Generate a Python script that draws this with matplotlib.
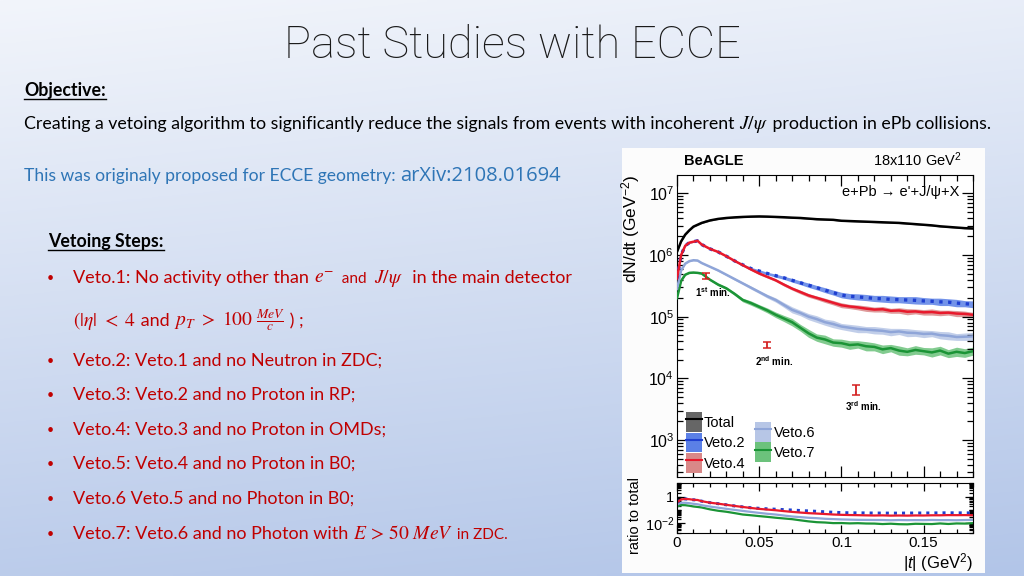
import numpy as np
import matplotlib
matplotlib.use("Agg")
import matplotlib.pyplot as plt
from matplotlib.patches import Rectangle, Patch
from matplotlib.lines import Line2D
from matplotlib.ticker import MultipleLocator, LogLocator, NullFormatter, FixedLocator, FixedFormatter

# ---------------- data ----------------
t_vals = [0.0, 0.0025, 0.005, 0.0075, 0.01, 0.0125, 0.015, 0.02, 0.025, 0.03,
          0.035, 0.04, 0.045, 0.05, 0.055, 0.06, 0.065, 0.07, 0.075, 0.08,
          0.085, 0.09, 0.095, 0.1, 0.105, 0.11, 0.115, 0.12, 0.125, 0.13,
          0.135, 0.14, 0.145, 0.15, 0.155, 0.16, 0.165, 0.17, 0.175, 0.18]

# log10(dN/dt)
log_total = [6.05, 6.22, 6.33, 6.40, 6.46, 6.49, 6.52, 6.56, 6.585, 6.60,
             6.61, 6.617, 6.622, 6.625, 6.622, 6.617, 6.612, 6.605, 6.60, 6.59,
             6.58, 6.575, 6.57, 6.555, 6.55, 6.545, 6.54, 6.535, 6.53, 6.525,
             6.52, 6.51, 6.50, 6.49, 6.48, 6.465, 6.455, 6.445, 6.435, 6.43]
log_veto2 = [5.62, 6.00, 6.15, 6.20, 6.215, 6.23, 6.17, 6.10, 6.05, 5.98,
             5.905, 5.84, 5.78, 5.74, 5.70, 5.665, 5.63, 5.59, 5.55, 5.51,
             5.47, 5.43, 5.39, 5.35, 5.33, 5.32, 5.31, 5.295, 5.29, 5.28,
             5.275, 5.27, 5.265, 5.255, 5.25, 5.24, 5.235, 5.22, 5.21, 5.20]
log_veto4 = [5.62, 6.00, 6.15, 6.20, 6.215, 6.23, 6.17, 6.10, 6.05, 5.98,
             5.905, 5.835, 5.765, 5.70, 5.645, 5.59, 5.52, 5.455, 5.40, 5.345,
             5.305, 5.265, 5.225, 5.185, 5.165, 5.15, 5.13, 5.115, 5.12, 5.095,
             5.10, 5.08, 5.085, 5.07, 5.075, 5.06, 5.065, 5.05, 5.045, 5.03]
log_veto6 = [5.45, 5.75, 5.86, 5.90, 5.915, 5.91, 5.87, 5.81, 5.75, 5.68,
             5.61, 5.54, 5.47, 5.40, 5.33, 5.27, 5.19, 5.11, 5.06, 5.00,
             4.96, 4.91, 4.88, 4.84, 4.82, 4.80, 4.79, 4.78, 4.77, 4.75,
             4.76, 4.74, 4.735, 4.72, 4.725, 4.70, 4.69, 4.67, 4.675, 4.68]
log_veto7 = [5.30, 5.58, 5.68, 5.71, 5.715, 5.71, 5.70, 5.60, 5.52, 5.46,
             5.37, 5.27, 5.22, 5.16, 5.10, 5.03, 4.97, 4.91, 4.82, 4.73,
             4.66, 4.63, 4.58, 4.57, 4.54, 4.55, 4.52, 4.51, 4.47, 4.49,
             4.45, 4.43, 4.46, 4.44, 4.42, 4.45, 4.40, 4.43, 4.41, 4.44]

# half-width of shaded uncertainty bands (dex)
band_total = [0.01, 0.01, 0.01, 0.01, 0.01, 0.01, 0.01, 0.01, 0.01, 0.01,
              0.01, 0.01, 0.01, 0.01, 0.01, 0.01, 0.01, 0.01, 0.01, 0.01,
              0.01, 0.01, 0.01, 0.01, 0.01, 0.01, 0.01, 0.01, 0.01, 0.01,
              0.01, 0.01, 0.01, 0.01, 0.01, 0.01, 0.01, 0.01, 0.01, 0.01]
band_veto2 = [0.01, 0.01, 0.01, 0.01, 0.01, 0.01, 0.01, 0.01, 0.01, 0.01,
              0.015, 0.015, 0.02, 0.02, 0.02, 0.025, 0.025, 0.03, 0.03, 0.035,
              0.035, 0.04, 0.04, 0.045, 0.045, 0.05, 0.05, 0.05, 0.055, 0.055,
              0.05, 0.055, 0.06, 0.055, 0.05, 0.06, 0.055, 0.06, 0.05, 0.055]
band_veto4 = [0.01, 0.01, 0.01, 0.01, 0.01, 0.01, 0.01, 0.01, 0.01, 0.01,
              0.01, 0.015, 0.015, 0.02, 0.02, 0.02, 0.025, 0.025, 0.03, 0.03,
              0.03, 0.035, 0.035, 0.04, 0.035, 0.04, 0.045, 0.04, 0.045, 0.04,
              0.045, 0.05, 0.04, 0.045, 0.05, 0.045, 0.04, 0.05, 0.045, 0.04]
band_veto6 = [0.01, 0.01, 0.01, 0.01, 0.01, 0.01, 0.01, 0.01, 0.015, 0.015,
              0.02, 0.02, 0.025, 0.025, 0.03, 0.035, 0.04, 0.05, 0.045, 0.05,
              0.055, 0.05, 0.06, 0.05, 0.055, 0.06, 0.05, 0.06, 0.055, 0.06,
              0.05, 0.065, 0.055, 0.06, 0.05, 0.06, 0.065, 0.055, 0.06, 0.065]
band_veto7 = [0.01, 0.01, 0.01, 0.01, 0.01, 0.01, 0.015, 0.015, 0.02, 0.02,
              0.025, 0.03, 0.035, 0.035, 0.04, 0.045, 0.05, 0.06, 0.055, 0.065,
              0.06, 0.07, 0.06, 0.065, 0.07, 0.06, 0.075, 0.065, 0.07, 0.06,
              0.075, 0.065, 0.07, 0.06, 0.075, 0.07, 0.065, 0.075, 0.07, 0.065]

# markers of diffractive minima
min_t = [0.0175, 0.055, 0.109]
min_val = [4.6e5, 3.5e4, 6.6e3]
min_err = [0.5e5, 0.35e4, 1.3e3]
min_labels = [r"1$^{\mathbf{st}}$ min.", r"2$^{\mathbf{nd}}$ min.", r"3$^{\mathbf{rd}}$ min."]

series_names = ["Total", "Veto.2", "Veto.4", "Veto.6", "Veto.7"]

# ---------------- styles ----------------
plt.rcParams["mathtext.fontset"] = "custom"
plt.rcParams["mathtext.rm"] = "Liberation Sans"
plt.rcParams["mathtext.it"] = "Liberation Sans:italic"
plt.rcParams["mathtext.bf"] = "Liberation Sans:bold"
CH = ["Liberation Sans", "DejaVu Sans"]
BODY = ["Lato", "DejaVu Sans"]
RED = "#c00000"
W, H = 1024, 576

fig = plt.figure(figsize=(10.24, 5.76), dpi=100)


def fx(x):
    return x / W


def fy(y):
    return 1 - y / H


# background gradient
bg = fig.add_axes([0, 0, 1, 1], zorder=-10)
yy, xx = np.mgrid[0:1:200j, 0:1:200j]
v = np.clip(0.85 * yy + 0.15 * xx, 0, 1)[..., None]
top_c = np.array([242, 245, 251]) / 255
bot_c = np.array([178, 197, 232]) / 255
bg.imshow(top_c * (1 - v) + bot_c * v, extent=[0, 1, 0, 1], aspect="auto", origin="upper")
bg.set_xlim(0, 1)
bg.set_ylim(0, 1)
bg.set_axis_off()

# white chart panel
fig.add_artist(Rectangle((fx(622), fy(573)), fx(985) - fx(622), fy(148) - fy(573),
                         transform=fig.transFigure, facecolor="#fcfcfc",
                         edgecolor="none", zorder=-5))

renderer = fig.canvas.get_renderer()


def run_text(x, y, parts):
    for s, kw in parts:
        t = fig.text(fx(x), fy(y), s, va="baseline", ha="left", **kw)
        x += t.get_window_extent(renderer).width
    return x


def underline(x0, x1, y, color="black"):
    fig.add_artist(Line2D([fx(x0), fx(x1)], [fy(y), fy(y)], transform=fig.transFigure,
                          color=color, lw=1.0))


# ---------------- slide text ----------------
fig.text(0.5, fy(46), "Past Studies with ECCE", ha="center", va="center",
         fontsize=32.5, family=["Roboto", "Lato", "DejaVu Sans"], weight="light",
         color="#1a1a1a")

x_end = run_text(24, 96, [("Objective:", dict(family=BODY, weight="bold", fontsize=12.8))])
underline(24, x_end, 99)

run_text(24, 129, [("Creating a vetoing algorithm to significantly reduce the signals from events with incoherent ",
                    dict(family=BODY, fontsize=12.8)),
                   (r"$J/\psi$", dict(fontsize=14, math_fontfamily="stix")),
                   (" production in ePb collisions.", dict(family=BODY, fontsize=12.8))])

BLUE_T = "#2e75b6"
run_text(24, 181, [("This was originaly proposed for ECCE geometry: ",
                    dict(family=BODY, fontsize=12.6, color=BLUE_T)),
                   ("arXiv:2108.01694", dict(family=["Open Sans", "DejaVu Sans"], fontsize=14.5,
                                              color=BLUE_T))])

x_end = run_text(48, 247, [("Vetoing Steps:", dict(family=BODY, weight="bold", fontsize=12.8))])
underline(48, x_end, 250)

body = dict(family=BODY, fontsize=13, color=RED)
small = dict(family=BODY, fontsize=11, color=RED)
math = dict(fontsize=14, color=RED, math_fontfamily="stix")

bullet_lines = [
    (283, [("Veto.1: No activity other than ", body), (r"$e^{-}$", math), ("  and  ", small),
           (r"$J/\psi$", math), ("  in the main detector", body)]),
    (366, [("Veto.2: Veto.1 and no Neutron in ZDC;", body)]),
    (400, [("Veto.3: Veto.2 and no Proton in RP;", body)]),
    (435, [("Veto.4: Veto.3 and no Proton in OMDs;", body)]),
    (469, [("Veto.5: Veto.4 and no Proton in B0;", body)]),
    (504, [("Veto.6 Veto.5 and no Photon in B0;", body)]),
    (539, [("Veto.7: Veto.6 and no Photon with ", body), (r"$E\,>\,50\ MeV$", math),
           (" in ZDC.", small)]),
]
for yb, parts in bullet_lines:
    fig.text(fx(50), fy(yb - 1), "\u2022", ha="center", va="baseline", family=BODY,
             fontsize=9, color=RED)
    run_text(73, yb, parts)

run_text(73, 326, [(r"$(|\eta|\ <\ 4$", math), (" and ", body),
                   (r"$p_T\ >\ 100\ \frac{MeV}{c}$", math), (" ) ;", body)])

# ---------------- chart ----------------
t = np.array(t_vals)
logs = [np.array(log_total), np.array(log_veto2), np.array(log_veto4),
        np.array(log_veto6), np.array(log_veto7)]
bands = [np.array(band_total), np.array(band_veto2), np.array(band_veto4),
         np.array(band_veto6), np.array(band_veto7)]
line_cols = ["#000000", "#1f3fd0", "#e8192c", "#8fa5d8", "#1b9436"]
band_cols = ["#666666", "#5b80e6", "#d98888", "#b7c6e6", "#6cc27c"]
styles = ["-", ":", "-", "-", "-"]
widths = [1.8, 2.4, 1.8, 1.8, 1.8]

ax = fig.add_axes([fx(677), fy(477), fx(973) - fx(677), fy(175) - fy(477)])
axr = fig.add_axes([fx(677), fy(533), fx(973) - fx(677), fy(482.5) - fy(533)])

for i in range(5):
    ax.fill_between(t, 10 ** (logs[i] - bands[i]), 10 ** (logs[i] + bands[i]),
                    color=band_cols[i], lw=0, alpha=0.85, zorder=1)
for i in [0, 4, 3, 1, 2]:
    ax.plot(t, 10 ** logs[i], color=line_cols[i], ls=styles[i], lw=widths[i], zorder=3)

ax.errorbar(min_t, min_val, yerr=min_err, fmt="none", ecolor="#d42020",
            elinewidth=1.3, capsize=3, capthick=1.1, zorder=4)
for tm, vm, lab in zip(min_t, min_val, min_labels):
    ax.annotate(lab, (tm, vm), xytext=(5, -12), textcoords="offset points",
                ha="center", va="center", fontsize=7, weight="bold", family=CH)

ax.set_yscale("log")
ax.set_xlim(0, 0.18)
ax.set_ylim(10 ** 2.40, 10 ** 7.297)
ax.yaxis.set_major_locator(LogLocator(base=10, numticks=10))
ax.yaxis.set_minor_locator(LogLocator(base=10, subs=np.arange(2, 10), numticks=20))
ax.yaxis.set_minor_formatter(NullFormatter())
ax.xaxis.set_major_locator(MultipleLocator(0.05))
ax.xaxis.set_minor_locator(MultipleLocator(0.01))
ax.tick_params(which="both", direction="in", top=True, right=True, labelbottom=False,
               width=0.9)
ax.tick_params(which="major", length=8, labelsize=11.5, pad=2)
ax.tick_params(which="minor", length=4)
for lab in ax.get_yticklabels():
    lab.set_family(CH)

ax.set_ylabel(r"dN/dt (GeV$^{-2}$)", family=CH, fontsize=12.5, labelpad=2)
ax.yaxis.set_label_coords(-0.118, 0.82)

ax.text(0.025, 1.045, "BeAGLE", transform=ax.transAxes, family=CH, weight="bold",
        fontsize=10.5, va="center", ha="left")
ax.text(0.96, 1.05, r"18x110 GeV$^{2}$", transform=ax.transAxes, family=CH,
        fontsize=10.5, va="center", ha="right")
ax.text(0.955, 0.945, "e+Pb \u2192 e'+J/\u03c8+X", transform=ax.transAxes, family=CH,
        fontsize=10.5, va="center", ha="right")


def handle(i):
    return (Patch(facecolor=band_cols[i], edgecolor="none"),
            Line2D([], [], color=line_cols[i], lw=1.5))


leg_kw = dict(loc="lower left", frameon=False, prop=dict(family=CH, size=10.5),
              handlelength=1.1, handleheight=1.7, handletextpad=0.15,
              labelspacing=0.05, borderaxespad=0.1, borderpad=0.2)
leg1 = ax.legend([handle(0), handle(1), handle(2)], series_names[:3],
                 bbox_to_anchor=(0.015, 0.0), **leg_kw)
ax.add_artist(leg1)
ax.legend([handle(3), handle(4)], series_names[3:], bbox_to_anchor=(0.25, 0.035), **leg_kw)

# ratio panel
for i in [4, 3, 1, 2]:
    axr.plot(t, 10 ** (logs[i] - logs[0]), color=line_cols[i], ls=styles[i],
             lw=widths[i] - 0.2)
axr.set_yscale("log")
axr.set_xlim(0, 0.18)
axr.set_ylim(10 ** -2.73, 10 ** 1.05)
axr.yaxis.set_major_locator(FixedLocator([1e-2, 1]))
axr.yaxis.set_major_formatter(FixedFormatter([r"10$^{-2}$", "1"]))
axr.yaxis.set_minor_locator(LogLocator(base=10, subs=np.arange(1, 10), numticks=20))
axr.yaxis.set_minor_formatter(NullFormatter())
axr.xaxis.set_major_locator(MultipleLocator(0.05))
axr.xaxis.set_minor_locator(MultipleLocator(0.01))
axr.xaxis.set_major_formatter(matplotlib.ticker.FuncFormatter(
    lambda v, p: "0" if abs(v) < 1e-9 else f"{v:g}"))
axr.tick_params(which="both", direction="in", top=True, right=True, width=0.9)
axr.tick_params(which="major", length=6, labelsize=11, pad=2)
axr.tick_params(which="minor", length=3)
axr.tick_params(axis="y", which="major", labelsize=10.5, pad=2)
for lab in axr.get_yticklabels() + axr.get_xticklabels():
    lab.set_family(CH)
axr.set_ylabel("ratio to total", family=CH, fontsize=10.5)
axr.yaxis.set_label_coords(-0.118, 0.35)
axr.set_xlabel(r"|$t$| (GeV$^{2}$)", family=CH, fontsize=12, labelpad=0)
axr.xaxis.set_label_coords(1.0, -0.36)
axr.xaxis.label.set_ha("right")

fig.savefig("out.png", dpi=100)
